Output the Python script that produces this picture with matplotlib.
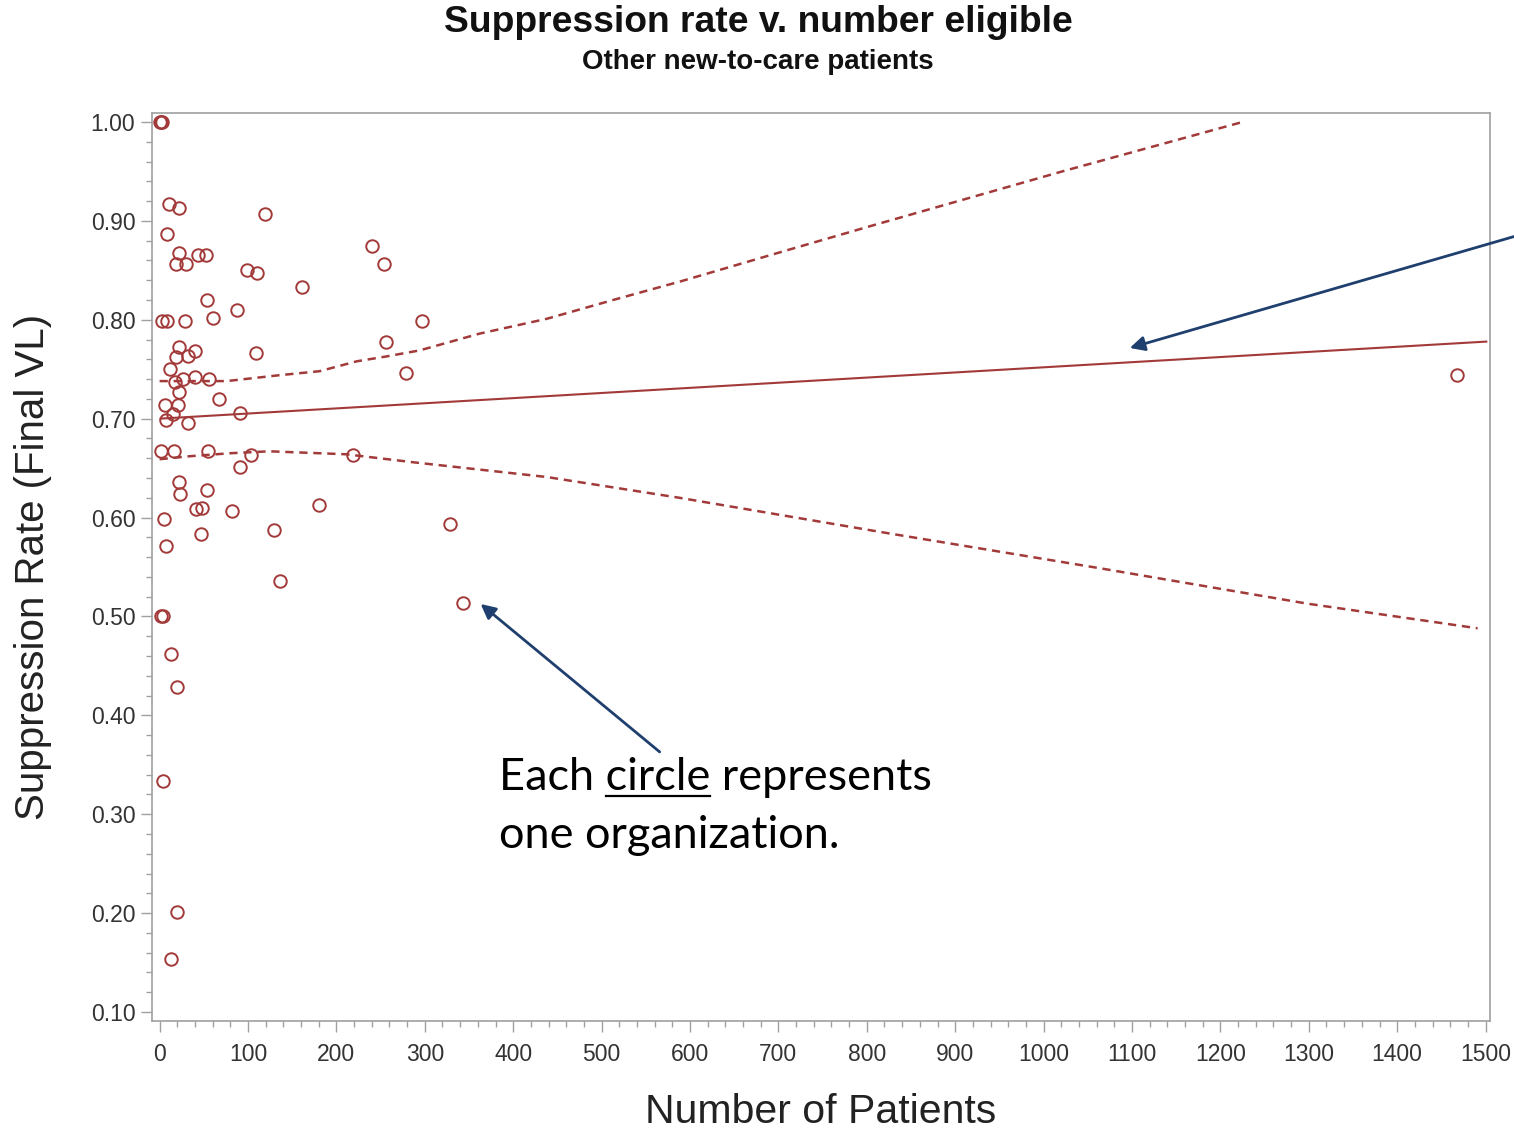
import matplotlib
matplotlib.use("Agg")
import matplotlib.pyplot as plt
from matplotlib.ticker import MultipleLocator, FormatStrFormatter

# ---------------- data ----------------
patients = [1, 2, 3, 10.5, 21.8, 118.8, 8.3, 21.8, 43.3, 52.8, 18.1, 29.4, 98.8,
            110.1, 161.5, 53.5, 87.9, 60.3, 3.1, 8.7, 28.3, 239.9, 253.5, 255.8,
            296.6, 278.4,
            21.8, 39.6, 18.9, 32.0, 109.4, 11.3, 17.0, 26.4, 39.6, 55.8, 21.8,
            67.1, 5.7, 20.7, 15.0, 90.5, 7.6, 32.0, 1.9, 15.8, 54.7, 103.8, 90.5,
            21.8, 23.4, 53.5, 40.7, 48.3, 82.3, 179.9, 4.5, 47.2, 129.0, 6.8,
            136.6, 218.4, 328.1, 342.8, 1467.5,
            2, 4, 13.2, 19.6, 3.7, 19.6, 13.2]
rate = [1.00, 1.00, 1.00, 0.917, 0.913, 0.907, 0.887, 0.868, 0.866, 0.866, 0.856,
        0.856, 0.850, 0.847, 0.833, 0.820, 0.810, 0.802, 0.799, 0.799, 0.799,
        0.875, 0.856, 0.778, 0.799, 0.746,
        0.772, 0.768, 0.762, 0.763, 0.766, 0.750, 0.737, 0.740, 0.742, 0.740,
        0.727, 0.720, 0.714, 0.714, 0.705, 0.706, 0.699, 0.696, 0.667, 0.667,
        0.667, 0.663, 0.651, 0.636, 0.624, 0.628, 0.609, 0.610, 0.607, 0.613,
        0.599, 0.583, 0.587, 0.571, 0.536, 0.663, 0.593, 0.514, 0.744,
        0.50, 0.50, 0.462, 0.429, 0.334, 0.201, 0.154]

fit_x = [0, 1502]
fit_y = [0.700, 0.778]

upper_x = [0, 76, 136, 181, 223, 257, 294, 362, 438, 513, 590, 697, 809, 1021, 1225]
upper_y = [0.738, 0.738, 0.744, 0.748, 0.758, 0.763, 0.769, 0.786, 0.801, 0.820,
           0.839, 0.867, 0.896, 0.950, 1.000]
lower_x = [0, 34, 79, 124, 211, 286, 438, 588, 825, 1062, 1298, 1491]
lower_y = [0.659, 0.662, 0.665, 0.667, 0.664, 0.656, 0.641, 0.620, 0.584, 0.549,
           0.513, 0.488]

x_ticks = list(range(0, 1501, 100))
y_ticks = [0.1, 0.2, 0.3, 0.4, 0.5, 0.6, 0.7, 0.8, 0.9, 1.0]

title = "Suppression rate v. number eligible"
subtitle = "Other new-to-care patients"
xlabel = "Number of Patients"
ylabel = "Suppression Rate (Final VL)"

# ---------------- styling ----------------
W, H = 1514, 1130
RED = "#A33A3A"
BLUE = "#1F3F6E"
GRAY = "#A0A0A0"
TXT = "#333333"
plt.rcParams["font.family"] = ["Liberation Sans", "DejaVu Sans"]

fig = plt.figure(figsize=(W / 100, H / 100), dpi=100)
fig.patch.set_facecolor("white")
L, R, T, B = 152, 1490, 113, 1021
ax = fig.add_axes([L / W, 1 - B / H, (R - L) / W, (B - T) / H])

ax.plot(fit_x, fit_y, color=RED, lw=1.5, solid_capstyle="butt", zorder=2)
ax.plot(upper_x, upper_y, color=RED, lw=1.8, linestyle=(0, (3.3, 2.3)), zorder=2)
ax.plot(lower_x, lower_y, color=RED, lw=1.8, linestyle=(0, (3.3, 2.3)), zorder=2)
ax.plot(patients, rate, linestyle="none", marker="o", ms=9, mfc="none",
        mec=RED, mew=1.4, zorder=3)

ax.set_xlim(-8.6, 1505)
ax.set_ylim(0.0909, 1.0091)
ax.set_xticks(x_ticks)
ax.set_yticks(y_ticks)
ax.xaxis.set_minor_locator(MultipleLocator(20))
ax.yaxis.set_minor_locator(MultipleLocator(0.02))
ax.yaxis.set_major_formatter(FormatStrFormatter("%.2f"))
for s in ax.spines.values():
    s.set_color(GRAY)
    s.set_linewidth(1.2)
ax.tick_params(which="major", length=8, width=1, color=GRAY, labelsize=16.5,
               labelcolor=TXT)
ax.tick_params(which="minor", length=4.5, width=1, color=GRAY)
ax.tick_params(axis="x", which="major", pad=8)
ax.tick_params(axis="y", which="major", pad=4)

def fx(px):
    return px / W

def fy(py):
    return 1 - py / H

fig.text(fx(758), fy(23), title, ha="center", va="center", fontsize=26.8,
         fontweight="bold", color="#111111")
fig.text(fx(758), fy(62), subtitle, ha="center", va="center", fontsize=20,
         fontweight="bold", color="#111111")
fig.text(fx(33), fy(567), ylabel, ha="center", va="center", rotation=90,
         fontsize=29, color="#222222")
fig.text(fx(821), fy(1112), xlabel, ha="center", va="center", fontsize=29.5,
         color="#222222")

# arrows
ax.annotate("", xy=(1097.5, 0.7715), xytext=(1545, 0.8875),
            xycoords="data", textcoords="data", annotation_clip=False,
            arrowprops=dict(arrowstyle="-|>", color=BLUE, lw=2.0,
                            mutation_scale=22, shrinkA=0, shrinkB=0))
ax.annotate("", xy=(363.2, 0.5126), xytext=(565.7, 0.363),
            xycoords="data", textcoords="data",
            arrowprops=dict(arrowstyle="-|>", color=BLUE, lw=2.0,
                            mutation_scale=22, shrinkA=0, shrinkB=0))

# annotation text with underlined "circle"
AF = ["Lato", "DejaVu Sans"]
AS = 32.5
x0, yb1, yb2 = 499, 790, 848
fig.text(fx(x0), fy(yb1), "Each circle represents", ha="left", va="baseline",
         fontsize=AS, family=AF, color="black")
fig.text(fx(x0), fy(yb2), "one organization.", ha="left", va="baseline",
         fontsize=AS, family=AF, color="black")
fig.canvas.draw()
rend = fig.canvas.get_renderer()
tA = fig.text(0, 0, "Each circle", fontsize=AS, family=AF)
tB = fig.text(0, 0, "circle", fontsize=AS, family=AF)
wA = tA.get_window_extent(rend).width
wB = tB.get_window_extent(rend).width
tA.remove(); tB.remove()
u0 = x0 + wA - wB
u1 = x0 + wA
fig.add_artist(plt.Line2D([fx(u0), fx(u1)], [fy(yb1 + 6), fy(yb1 + 6)],
                          transform=fig.transFigure, color="black", lw=1.6))

fig.savefig("out.png", dpi=100, facecolor="white")
